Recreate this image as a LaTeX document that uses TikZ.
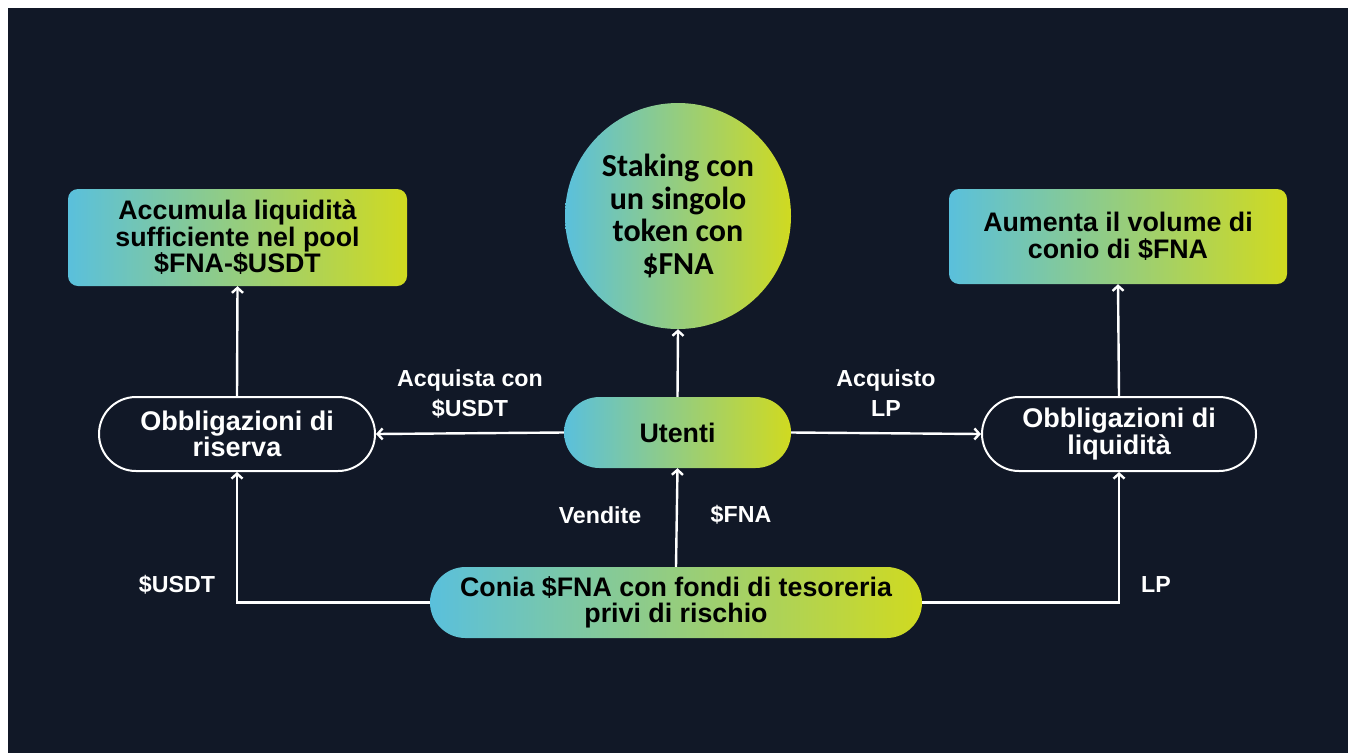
\documentclass[tikz,border=0pt]{standalone}
\usepackage{fontspec}
\setmainfont{Liberation Sans}
\newfontfamily\carl{Carlito}
\usetikzlibrary{arrows.meta}
\definecolor{bg}{RGB}{17,24,39}
\definecolor{ga}{RGB}{90,192,220}
\definecolor{gb}{RGB}{120,196,132}
\definecolor{gc}{RGB}{208,218,32}
\begin{document}
\begin{tikzpicture}[x=1pt,y=-1pt,
  grad/.style={left color=ga, middle color=gb, right color=gc, draw=none},
  boxtxt/.style={font=\bfseries\fontsize{26.8}{26.5}\selectfont, text=black, align=center, inner sep=0pt},
  outl/.style={draw=white, line width=2pt, fill=bg, text=white, font=\bfseries\fontsize{27}{26.5}\selectfont, align=center, inner sep=0pt},
  lab/.style={text=white, font=\bfseries\fontsize{23.2}{30}\selectfont, align=center, inner sep=0pt},
  arr/.style={draw=white, line width=2.4pt, -{Straight Barb[length=5pt,width=11pt]}}
]
\fill[white] (0,0) rectangle (1348,753);
\fill[bg] (8,8) rectangle (1348,753);
\useasboundingbox (0,0) rectangle (1348,753);

\node[grad, boxtxt, rounded corners=10pt, minimum width=339pt, minimum height=97pt] (tl) at (237.5,237.5) {Accumula liquidità\\sufficiente nel pool\\\$FNA-\$USDT};
\node[grad, boxtxt, rounded corners=10pt, minimum width=338pt, minimum height=95pt] (tr) at (1118,236.5) {Aumenta il volume di\\conio di \$FNA};
\node[grad, circle, minimum size=226pt, inner sep=0pt, text=black, font=\carl\bfseries\fontsize{32}{32.5}\selectfont, align=center] (stk) at (678,216) {Staking con\\un singolo\\token con\\\$FNA};

\node[outl, rounded corners=37pt, minimum width=276pt, minimum height=74pt] (res) at (237,434) {Obbligazioni di\\riserva};
\node[outl, rounded corners=37pt, minimum width=274pt, minimum height=74pt] (liq) at (1119,434) {Obbligazioni di\\liquidità};
\node[grad, boxtxt, rounded corners=35.5pt, minimum width=227pt, minimum height=71pt] (ute) at (677.5,432.5) {Utenti};
\node[grad, boxtxt, rounded corners=35.5pt, minimum width=492pt, minimum height=71pt] (con) at (676,602.5) {Conia \$FNA con fondi di tesoreria\\privi di rischio};

\draw[arr] (res.north) -- (tl.south);
\draw[arr] (ute.north) -- (stk.south);
\draw[arr] (liq.north) -- (tr.south);
\draw[arr] (ute.west) -- (res.east);
\draw[arr] (ute.east) -- (liq.west);
\draw[arr] (con.north) -- (ute.south);
\draw[arr] (con.west) -| (res.south);
\draw[arr] (con.east) -| (liq.south);

\node[lab] (l1) at (470,394) {Acquista con\\\$USDT};
\node[lab] (l2) at (886,393.5) {Acquisto\\LP};
\node[lab] (l3) at (600,515) {Vendite};
\node[lab] (l4) at (741,515) {\$FNA};
\node[lab] (l5) at (177,585) {\$USDT};
\node[lab] (l6) at (1156,585) {LP};
\end{tikzpicture}
\end{document}
